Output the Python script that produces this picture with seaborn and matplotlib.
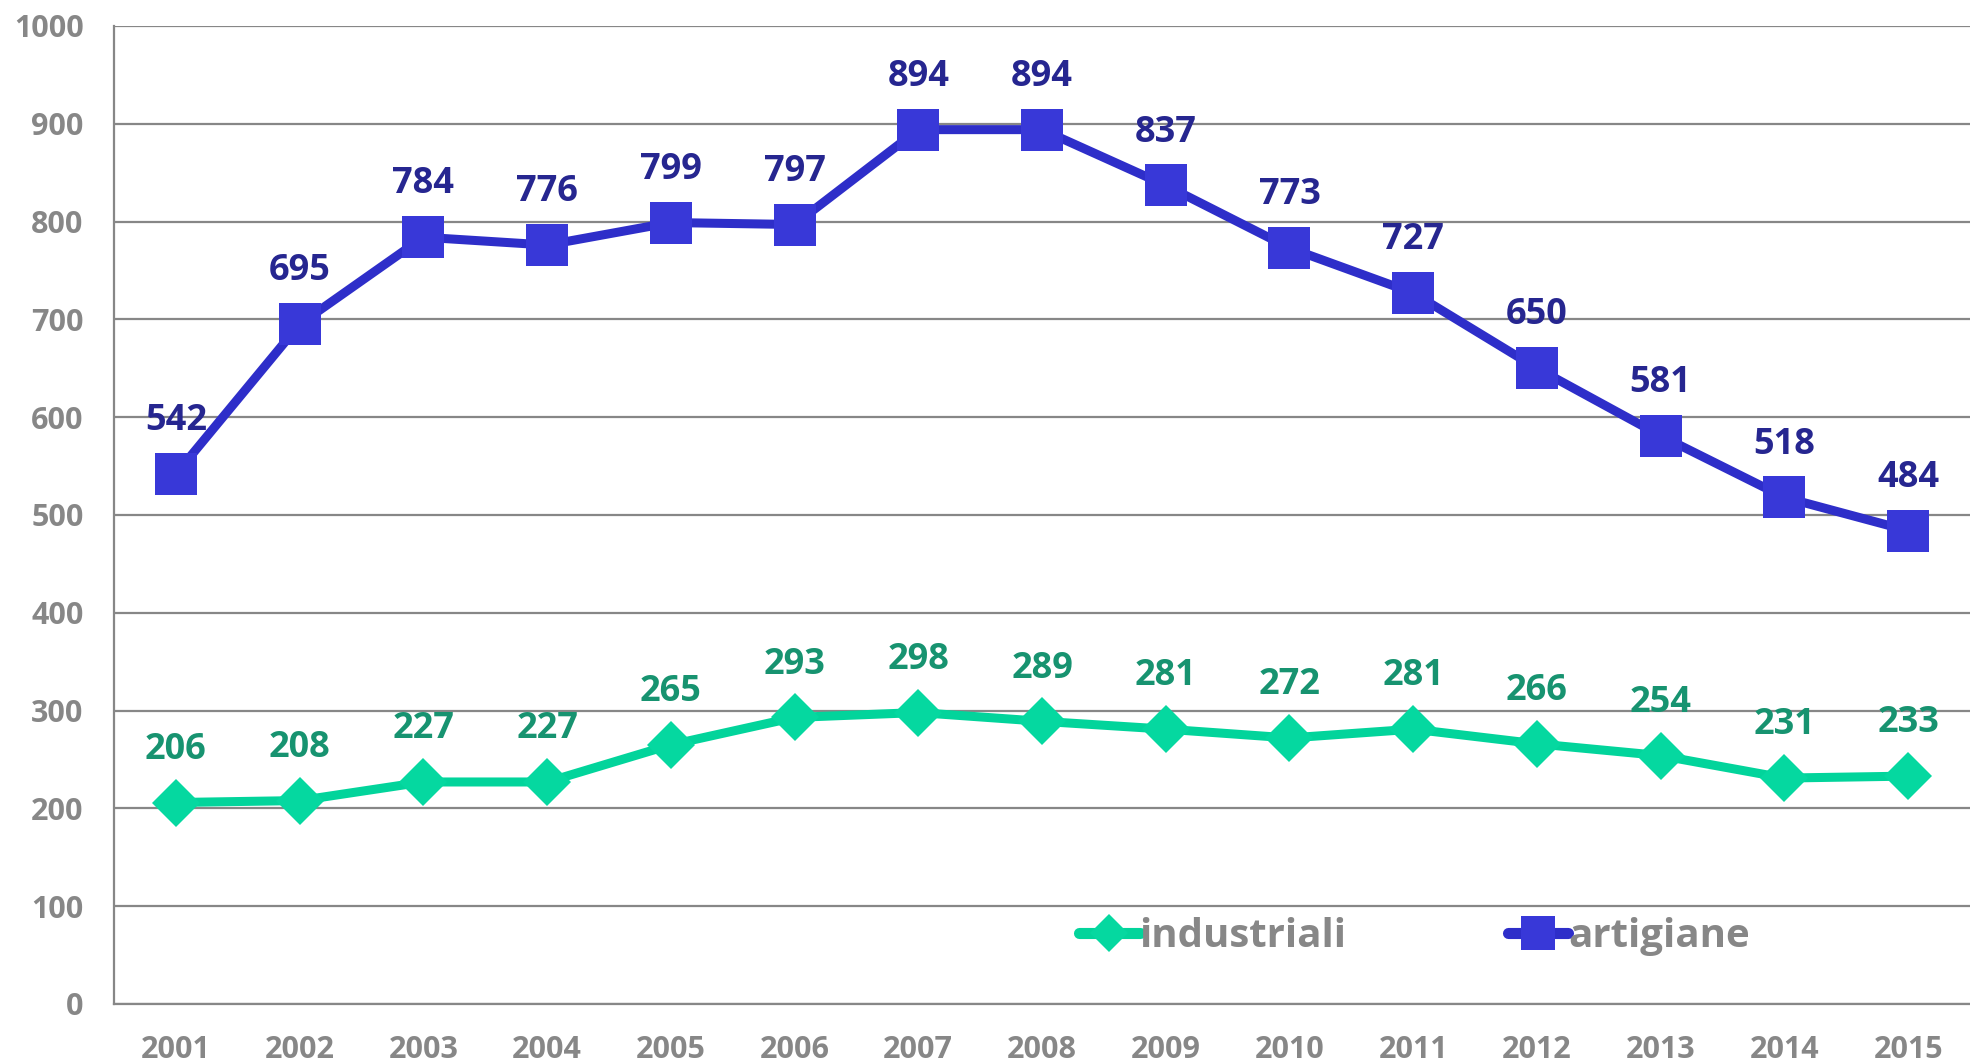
import pandas as pd
import matplotlib
matplotlib.use("Agg")
import matplotlib.pyplot as plt
import seaborn as sns

# Dati
anni = ["2001", "2002", "2003", "2004", "2005", "2006", "2007", "2008",
        "2009", "2010", "2011", "2012", "2013", "2014", "2015"]
industriali = [206, 208, 227, 227, 265, 293, 298, 289, 281, 272, 281, 266, 254, 231, 233]
artigiane = [542, 695, 784, 776, 799, 797, 894, 894, 837, 773, 727, 650, 581, 518, 484]

GRIGIO = "#878787"
VERDE_LINEA = "#02D49B"
VERDE_TESTO = "#179370"
BLU_LINEA = "#2E2EC9"
BLU_MARKER = "#3838D8"
BLU_TESTO = "#262690"

sns.set_style("white")
plt.rcParams['font.family'] = ['Open Sans', 'DejaVu Sans']
plt.rcParams['font.weight'] = 'bold'

df = pd.DataFrame({"pos": range(len(anni)), "anno": anni,
                   "industriali": industriali, "artigiane": artigiane})

fig = plt.figure(figsize=(19.7, 10.64), dpi=100)
ax = fig.add_axes([0.0579, 0.0564, 0.9421, 0.9192])

for y in range(0, 1001, 100):
    ax.axhline(y, color=GRIGIO, lw=1.6, zorder=0)

sns.lineplot(data=df, x="pos", y="industriali", ax=ax, color=VERDE_LINEA,
             lw=6.5, marker="D", markersize=24, markeredgewidth=0,
             markerfacecolor="#05D8A0", label="industriali", zorder=3)
sns.lineplot(data=df, x="pos", y="artigiane", ax=ax, color=BLU_LINEA,
             lw=6.5, marker="s", markersize=30, markeredgewidth=0,
             markerfacecolor=BLU_MARKER, label="artigiane", zorder=3)

for i, v in enumerate(industriali):
    ax.annotate(str(v), (i, v), xytext=(0, 38), textcoords="offset points",
                ha="center", va="center", fontsize=26, fontweight="bold",
                color=VERDE_TESTO, zorder=5)
for i, v in enumerate(artigiane):
    ax.annotate(str(v), (i, v), xytext=(0, 38), textcoords="offset points",
                ha="center", va="center", fontsize=26, fontweight="bold",
                color=BLU_TESTO, zorder=5)

ax.set_xlim(-0.5, len(anni) - 0.5)
ax.set_ylim(0, 1000)
ax.set_yticks(range(0, 1001, 100))
ax.set_xticks(range(len(anni)))
ax.set_xticklabels(anni)
ax.set_xticks([i - 0.5 for i in range(len(anni) + 1)], minor=True)
ax.tick_params(axis="x", which="major", length=0, pad=22, labelsize=22, labelcolor=GRIGIO)
ax.tick_params(axis="x", which="minor", length=8, width=1.6, color=GRIGIO, direction="out")
ax.tick_params(axis="y", length=8, width=1.6, color=GRIGIO, pad=14, labelsize=22, labelcolor=GRIGIO)
for lab in ax.get_xticklabels() + ax.get_yticklabels():
    lab.set_fontweight("bold")
ax.set_xlabel("")
ax.set_ylabel("")

for s in ["top", "right"]:
    ax.spines[s].set_visible(False)
for s in ["left", "bottom"]:
    ax.spines[s].set_color(GRIGIO)
    ax.spines[s].set_linewidth(1.6)

handles, labels = ax.get_legend_handles_labels()
leg = fig.legend(handles, labels, loc="center", bbox_to_anchor=(0.718, 0.120),
                 ncol=2, frameon=False, handlelength=1.5, handletextpad=0.0,
                 columnspacing=4.0, prop={"size": 29, "weight": "bold"})
for h in leg.legend_handles:
    h.set_markersize(h.get_markersize() * 0.8)
    h.set_linewidth(8)
    h.set_solid_capstyle("round")
for t in leg.get_texts():
    t.set_color(GRIGIO)
if ax.get_legend():
    ax.get_legend().remove()

fig.savefig("out.png", dpi=100)
